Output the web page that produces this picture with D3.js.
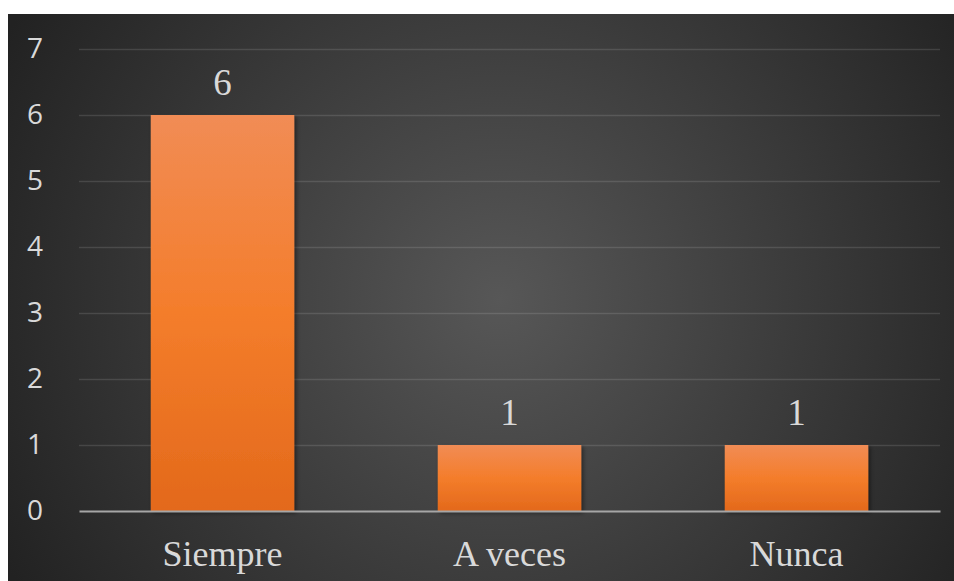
<!DOCTYPE html>
<html>
<head>
<meta charset="utf-8">
<script src="https://cdn.jsdelivr.net/npm/d3@7"></script>
<style>
  html, body { margin: 0; padding: 0; background: #ffffff; }
  svg { display: block; }
</style>
</head>
<body>
<div id="chart"></div>
<script>
// data
const categories = ["Siempre", "A veces", "Nunca"];
const counts = [6, 1, 1];
const yTicks = [0, 1, 2, 3, 4, 5, 6, 7];

const width = 954;
const height = 581;
const panel = { x: 8, y: 14 };
const margins = { top: 49, right: 14, bottom: 70, left: 79 };
const serif = "'Liberation Serif', 'Times New Roman', serif";

const svg = d3.select("#chart").append("svg")
    .attr("width", width)
    .attr("height", height);

const defs = svg.append("defs");

// dark background, lighter towards the middle
const bg = defs.append("radialGradient")
    .attr("id", "bgGrad")
    .attr("gradientUnits", "userSpaceOnUse")
    .attr("cx", 500).attr("cy", 300).attr("r", 560);
bg.append("stop").attr("offset", "0%").attr("stop-color", "#575757");
bg.append("stop").attr("offset", "100%").attr("stop-color", "#222222");

const barGrad = defs.append("linearGradient")
    .attr("id", "barGrad")
    .attr("x1", 0).attr("y1", 0).attr("x2", 0).attr("y2", 1);
barGrad.append("stop").attr("offset", "0%").attr("stop-color", "#f18c55");
barGrad.append("stop").attr("offset", "50%").attr("stop-color", "#f47d2b");
barGrad.append("stop").attr("offset", "100%").attr("stop-color", "#e3691b");

const shadow = defs.append("filter").attr("id", "barShadow")
    .attr("x", "-10%").attr("y", "-10%").attr("width", "130%").attr("height", "130%");
shadow.append("feDropShadow")
    .attr("dx", 2).attr("dy", 2).attr("stdDeviation", 2)
    .attr("flood-color", "#000").attr("flood-opacity", 0.45);

svg.append("rect")
    .attr("x", panel.x).attr("y", panel.y)
    .attr("width", width - panel.x).attr("height", height - panel.y)
    .attr("fill", "url(#bgGrad)");

// scales
const x = d3.scaleBand()
    .domain(categories)
    .range([margins.left, width - margins.right])
    .paddingInner(0.5)
    .paddingOuter(0.25);

const y = d3.scaleLinear()
    .domain([0, 7])
    .range([height - margins.bottom, margins.top]);

// grid lines
svg.append("g")
    .attr("transform", `translate(${margins.left},0)`)
    .call(d3.axisLeft(y)
        .tickValues(yTicks.filter(t => t > 0))
        .tickSize(-(width - margins.left - margins.right))
        .tickFormat(""))
    .call(g => g.select(".domain").remove())
    .selectAll("line")
    .attr("stroke", "#ffffff")
    .attr("stroke-opacity", 0.12)
    .attr("stroke-width", 1.3);

// y tick labels
svg.append("g")
    .attr("transform", `translate(${margins.left},0)`)
    .call(d3.axisLeft(y).tickValues(yTicks).tickFormat(d3.format("d")).tickSize(0).tickPadding(44))
    .call(g => g.select(".domain").remove())
    .selectAll("text")
    .style("font-family", "'Open Sans', sans-serif")
    .style("font-size", "28px")
    .attr("fill", "#d9d9d9")
    .attr("text-anchor", "middle");

// bars
svg.append("g")
    .selectAll("rect")
    .data(categories)
    .join("rect")
    .attr("x", d => x(d))
    .attr("y", (d, i) => y(counts[i]))
    .attr("width", x.bandwidth())
    .attr("height", (d, i) => y(0) - y(counts[i]))
    .attr("fill", "url(#barGrad)")
    .attr("filter", "url(#barShadow)");

// baseline + category labels
svg.append("g")
    .attr("transform", `translate(0,${y(0)})`)
    .call(d3.axisBottom(x).tickSize(0))
    .call(g => g.select(".domain")
        .attr("stroke", "#a6a6a6")
        .attr("stroke-width", 2))
    .selectAll("text")
    .attr("y", 55)
    .attr("dy", 0)
    .style("font-family", serif)
    .style("font-size", "36px")
    .attr("fill", "#d9d9d9");

// value labels
svg.append("g")
    .selectAll("text")
    .data(categories)
    .join("text")
    .attr("x", d => x(d) + x.bandwidth() / 2)
    .attr("y", (d, i) => y(counts[i]) - 20)
    .attr("text-anchor", "middle")
    .style("font-family", serif)
    .style("font-size", "37px")
    .attr("fill", "#d9d9d9")
    .text((d, i) => counts[i]);
</script>
</body>
</html>
